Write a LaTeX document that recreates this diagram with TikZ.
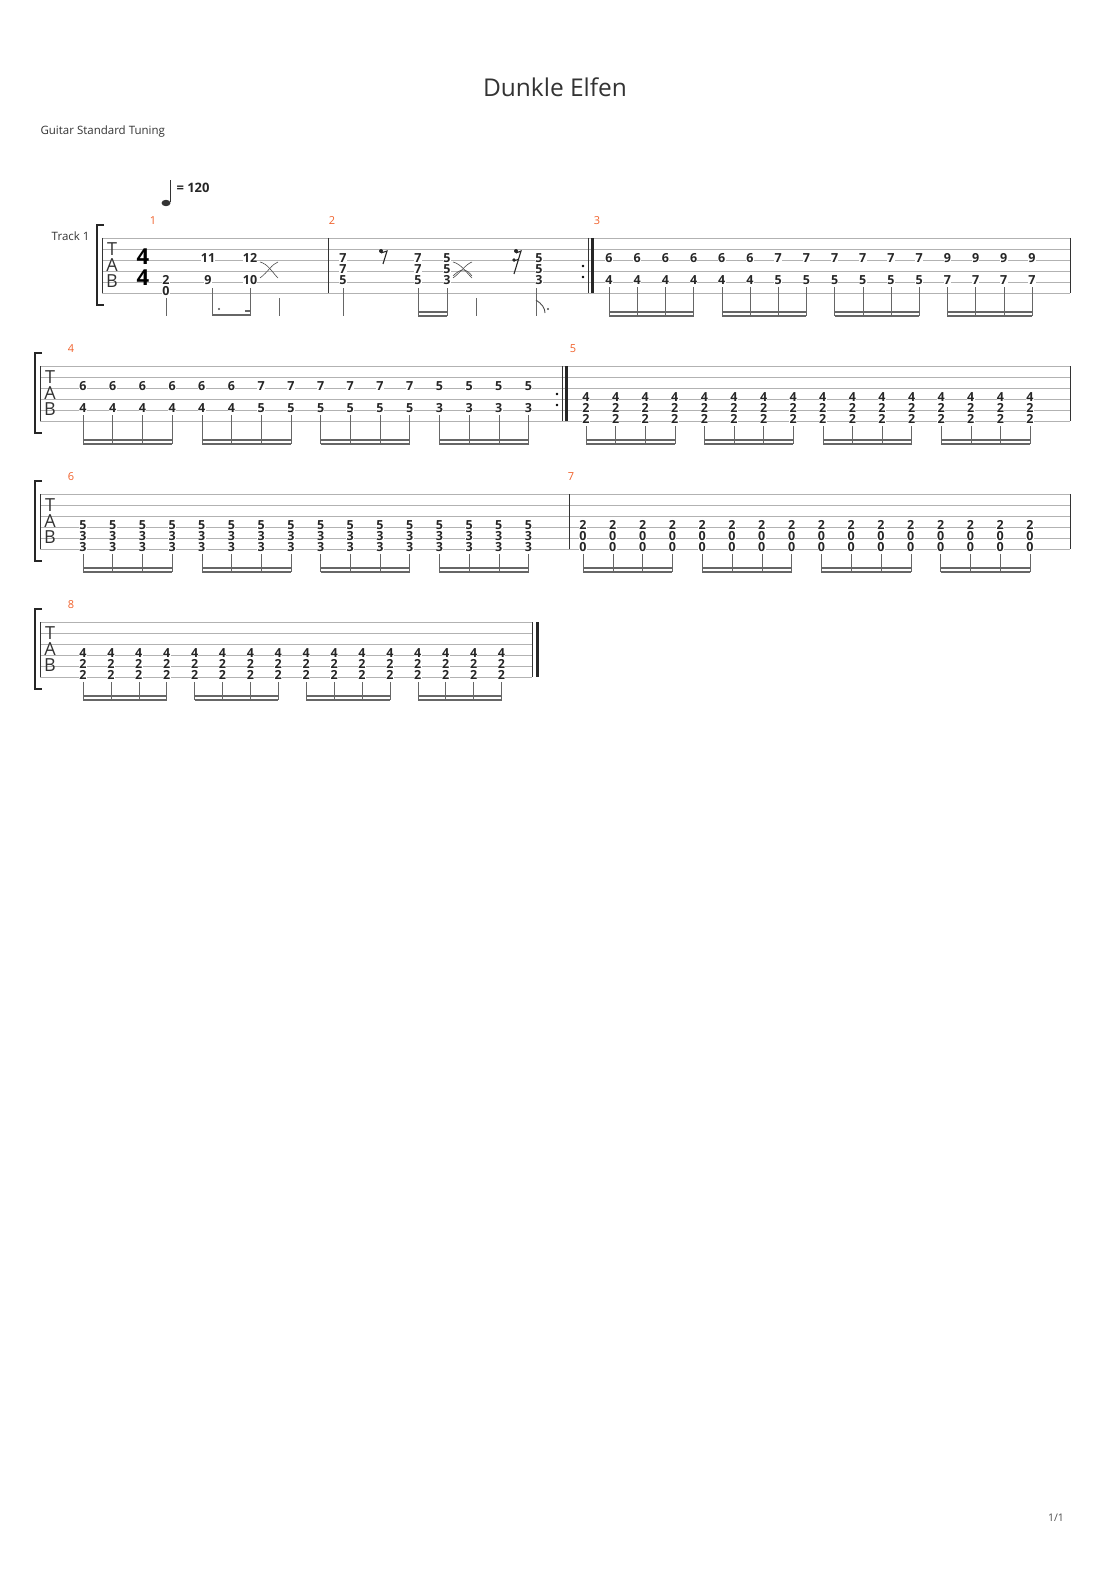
\documentclass[tikz,border=0pt]{standalone}
\usepackage{fontspec}
\setmainfont{Open Sans}
\begin{document}
\begin{tikzpicture}[x=1pt,y=-1pt,
  staff/.style={draw=black!30,line width=0.6pt},
  bar/.style={draw=black!80,line width=0.8pt},
  num/.style={fill=white,inner sep=0.3pt,font=\bfseries\fontsize{12.5}{12.5}\selectfont,text=black!85},
  mnum/.style={font=\fontsize{11}{11}\selectfont,text={rgb,255:red,240;green,96;blue,42}},
  stem/.style={draw=black!60,line width=0.6pt},
  beam/.style={draw=black!60,line width=1.6pt}]
\useasboundingbox (0,0) rectangle (1110,1570);
\node[font=\fontsize{24.5}{24.5}\selectfont,text=black!80] (title) at (555,87) {Dunkle Elfen};
\node[anchor=west,font=\fontsize{11.5}{11.5}\selectfont,text=black!80] (tun) at (37,132) {Guitar Standard Tuning};
\node[anchor=east,font=\fontsize{11.5}{11.5}\selectfont,text=black!80] (trk) at (93,236) {Track 1};
\node[font=\fontsize{10.5}{10.5}\selectfont,text=black!70] (pg) at (1056,1518) {1/1};
% tempo
\fill[black!80] (166,203) ellipse (4.5 and 3.2);
\draw[black!80,line width=0.8pt] (170,202) -- (170,180);
\node[anchor=west,font=\bfseries\fontsize{13}{13}\selectfont,text=black!85] (tempo) at (173,188) {= 120};
% staves
\foreach \top/\xa/\xb in {238/102/1070,366/40/1070,494/40/1070,622/40/532}{
  \foreach \k in {0,...,5}{\draw[staff] (\xa,\top+11*\k) -- (\xb,\top+11*\k);}
  \draw[bar] (\xa,\top) -- (\xa,\top+55);
  \node[font=\fontsize{18}{18}\selectfont,text=black!80,inner sep=0] at (\xa+10,\top+11) {T};
  \node[font=\fontsize{18}{18}\selectfont,text=black!80,inner sep=0] at (\xa+10,\top+27) {A};
  \node[font=\fontsize{18}{18}\selectfont,text=black!80,inner sep=0] at (\xa+10,\top+43) {B};
}
% brackets
\foreach \bx/\top in {97/238,35/366,35/494,35/622}{
  \draw[black!85,line width=2pt] (\bx+7,\top-13) -- (\bx,\top-13) -- (\bx,\top+67) -- (\bx+7,\top+67);
}
% measure numbers
\foreach \x/\y/\t in {153/221/1,332/221/2,597/221/3,71/349/4,573/349/5,71/477/6,571/477/7,71/605/8}{
  \node[mnum] at (\x,\y) {\t};}
% barlines
\draw[bar] (328,238) -- (328,293);
\draw[bar] (1070,238) -- (1070,293);
\draw[bar] (588,238) -- (588,293); \draw[black!85,line width=3pt] (592.5,238) -- (592.5,293);
\fill (583,266) circle (1.3); \fill (583,277) circle (1.3);
\draw[bar] (562,366) -- (562,421); \draw[black!85,line width=3pt] (566.5,366) -- (566.5,421);
\fill (557,394) circle (1.3); \fill (557,405) circle (1.3);
\draw[bar] (1070,366) -- (1070,421);
\draw[bar] (569,494) -- (569,549); \draw[bar] (1070,494) -- (1070,549);
\draw[bar] (532,622) -- (532,677); \draw[black!85,line width=3pt] (537,622) -- (537,677);
% time signature
\node[font=\bfseries\fontsize{22}{22}\selectfont,inner sep=0] at (143,257) {4};
\node[font=\bfseries\fontsize{22}{22}\selectfont,inner sep=0] at (143,278) {4};
% measure 1
\node[num] at (166,280) {2}; \node[num] at (166,291) {0};
\node[num] at (208,258) {11}; \node[num] at (208,280) {9};
\node[num] at (250,258) {12}; \node[num] at (250,280) {10};
\draw[stem] (166,298) -- (166,316);
\draw[stem] (212,288) -- (212,316); \draw[stem] (250,288) -- (250,316);
\draw[beam] (212,315) -- (250,315); \draw[beam] (245,311) -- (250,311);
\fill[black!70] (219,309) circle (1.1);
\draw[black!70,line width=0.6pt] (260,262) .. controls (268,264) and (272,272) .. (278,278);
\draw[black!70,line width=0.6pt] (260,278) .. controls (268,272) and (272,264) .. (278,262);
\draw[stem] (279,298) -- (279,316);
% measure 2
\foreach \x/\a/\b/\c in {343/7/7/5,418/7/7/5,447/5/5/3,539/5/5/3}{
  \node[num] at (\x,258) {\a}; \node[num] at (\x,269) {\b}; \node[num] at (\x,280) {\c};}
\draw[stem] (343,288) -- (343,316);
\draw[stem] (418,288) -- (418,316); \draw[stem] (447,288) -- (447,316);
\draw[beam] (418,312) -- (447,312); \draw[beam] (418,316) -- (447,316);
\draw[black!70,line width=0.6pt] (453,262) .. controls (461,264) and (466,272) .. (472,278);
\draw[black!70,line width=0.6pt] (453,278) .. controls (461,272) and (466,264) .. (472,262);
\draw[black!70,line width=0.6pt] (453,276) .. controls (461,268) and (466,268) .. (472,276);
\draw[stem] (476,298) -- (476,316);
\fill[black!85] (381,251) circle (2); \draw[black!85,line width=1.1pt] (381,253) -- (387,251) -- (383,264);
\fill[black!85] (516,251) circle (2); \draw[black!85,line width=1.1pt] (516,253) -- (521,251) -- (514,274);
\fill[black!85] (514,260) circle (1.8); \draw[black!85,line width=1pt] (514,261) -- (519,259);
\draw[stem] (536,288) -- (536,316);
\draw[black!70,line width=0.9pt] (536,300) .. controls (542,304) and (545,308) .. (545,313);
\fill[black!70] (548,309) circle (1.1);
% 16th runs
\newcommand{\sixteen}[4]{%
  \foreach \g in {0,...,3}{
    \draw[beam] (#1+#2*4*\g,#3+74) -- (#1+#2*4*\g+3*#2,#3+74);
    \draw[beam] (#1+#2*4*\g,#3+78) -- (#1+#2*4*\g+3*#2,#3+78);}
  \foreach \i in {0,...,15}{\draw[stem] (#1+#2*\i,#4) -- (#1+#2*\i,#3+78);}
}
% measure 3
\foreach \t [count=\i from 0] in {6,6,6,6,6,6,7,7,7,7,7,7,9,9,9,9}{\node[num] at (609+28.2*\i,258) {\t};}
\foreach \t [count=\i from 0] in {4,4,4,4,4,4,5,5,5,5,5,5,7,7,7,7}{\node[num] at (609+28.2*\i,280) {\t};}
\sixteen{609}{28.2}{238}{287}
% measure 4
\foreach \t [count=\i from 0] in {6,6,6,6,6,6,7,7,7,7,7,7,5,5,5,5}{\node[num] at (83+29.7*\i,386) {\t};}
\foreach \t [count=\i from 0] in {4,4,4,4,4,4,5,5,5,5,5,5,3,3,3,3}{\node[num] at (83+29.7*\i,408) {\t};}
\sixteen{83}{29.7}{366}{415}
% measure 5
\foreach \i in {0,...,15}{\node[num] at (586+29.6*\i,397) {4};\node[num] at (586+29.6*\i,408) {2};\node[num] at (586+29.6*\i,419) {2};}
\sixteen{586}{29.6}{366}{426}
% measure 6
\foreach \i in {0,...,15}{\node[num] at (83+29.7*\i,525) {5};\node[num] at (83+29.7*\i,536) {3};\node[num] at (83+29.7*\i,547) {3};}
\sixteen{83}{29.7}{494}{554}
% measure 7
\foreach \i in {0,...,15}{\node[num] at (583+29.8*\i,525) {2};\node[num] at (583+29.8*\i,536) {0};\node[num] at (583+29.8*\i,547) {0};}
\sixteen{583}{29.8}{494}{554}
% measure 8
\foreach \i in {0,...,15}{\node[num] at (83+27.9*\i,653) {4};\node[num] at (83+27.9*\i,664) {2};\node[num] at (83+27.9*\i,675) {2};}
\sixteen{83}{27.9}{622}{682}
\end{tikzpicture}
\end{document}
